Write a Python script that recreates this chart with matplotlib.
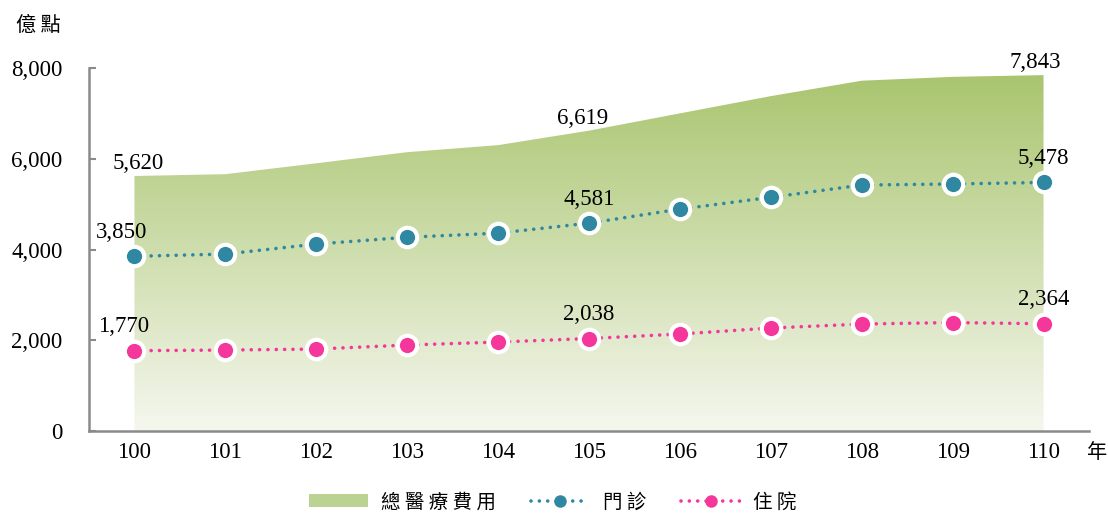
import matplotlib.pyplot as plt
import numpy as np
from matplotlib.colors import LinearSegmentedColormap
from matplotlib.lines import Line2D
from matplotlib.patches import Patch

plt.rcParams['font.family'] = ['Liberation Serif', 'Noto Sans CJK TC']

years = [100, 101, 102, 103, 104, 105, 106, 107, 108, 109, 110]
total = [5620, 5660, 5900, 6145, 6300, 6619, 7000, 7380, 7720, 7805, 7843]
outpatient = [3850, 3900, 4120, 4270, 4360, 4581, 4890, 5150, 5420, 5444, 5478]
inpatient = [1770, 1784, 1806, 1894, 1960, 2038, 2137, 2269, 2357, 2390, 2364]
labeled = [0, 5, 10]

green_top = '#a9c56f'
green_bot = '#f5f7ee'
blue = '#2f87a1'
pink = '#f5369b'

fig = plt.figure(figsize=(11.08, 5.15), dpi=100)
ax = fig.add_axes([89 / 1108, 84 / 515, 1000 / 1108, 363 / 515])

# gradient filled area for total cost
poly = ax.fill_between(years, 0, total, color='none', lw=0, zorder=1)
cmap = LinearSegmentedColormap.from_list('g', [green_bot, green_top])
grad = np.linspace(0, 1, 256).reshape(-1, 1)
img = ax.imshow(grad, cmap=cmap, origin='lower', aspect='auto',
                extent=[years[0], years[-1], 0, max(total)], zorder=1)
img.set_clip_path(poly.get_paths()[0], transform=ax.transData)
ax.set_xlim(99.5, 110.5)
ax.set_ylim(0, 8000)

dot = (0, (0.01, 2.3))
ax.plot(years, outpatient, color=blue, lw=2.6, ls=dot, dash_capstyle='round',
        marker='o', ms=14, mfc=blue, mec='white', mew=3, zorder=3)
ax.plot(years, inpatient, color=pink, lw=2.6, ls=dot, dash_capstyle='round',
        marker='o', ms=14, mfc=pink, mec='white', mew=3, zorder=3)

fs = 16.5
for i in labeled:
    dx = {0: 4, 5: -6, 10: -8}[i]
    ax.annotate(f'{total[i]:,}', (years[i], total[i]), xytext=(dx, 2),
                textcoords='offset pixels', ha='center', va='bottom', fontsize=fs)
    dx = {0: -13, 5: 0, 10: 0}[i]
    ax.annotate(f'{outpatient[i]:,}', (years[i], outpatient[i]), xytext=(dx, 13),
                textcoords='offset pixels', ha='center', va='bottom', fontsize=fs)
    dx = {0: -11, 5: 0, 10: 0}[i]
    ax.annotate(f'{inpatient[i]:,}', (years[i], inpatient[i]), xytext=(dx, 14),
                textcoords='offset pixels', ha='center', va='bottom', fontsize=fs)

ax.set_xticks(years)
ax.set_xticklabels([str(y) for y in years], fontsize=fs)
ax.set_yticks([0, 2000, 4000, 6000, 8000])
ax.set_yticklabels(['0', '2,000', '4,000', '6,000', '8,000'], fontsize=fs)
ax.tick_params(axis='x', length=0, pad=8)
ax.tick_params(axis='y', direction='in', length=5, width=1.5, color='#8a8a8a', pad=19)
for s in ['top', 'right']:
    ax.spines[s].set_visible(False)
for s in ['left', 'bottom']:
    ax.spines[s].set_color('#8a8a8a')
    ax.spines[s].set_linewidth(1.8)

fig.text(38 / 1108, 1 - 25 / 515, '億 點', fontsize=14.5, ha='center', va='center',
         family='Noto Sans CJK TC')
fig.text(1097 / 1108, 1 - 452 / 515, '年', fontsize=14.5, ha='center', va='center',
         family='Noto Sans CJK TC')

handles = [
    Patch(facecolor='#bcd292', edgecolor='none'),
    Line2D([], [], color=blue, lw=2.6, ls=dot, dash_capstyle='round', marker='o',
           ms=9, mfc=blue, mec='white', mew=0),
    Line2D([], [], color=pink, lw=2.6, ls=dot, dash_capstyle='round', marker='o',
           ms=9, mfc=pink, mec='white', mew=0),
]
fig.legend(handles, ['總 醫 療 費 用', '門 診', '住 院'], loc='center',
           bbox_to_anchor=(553 / 1108, 1 - 502 / 515), ncol=3, frameon=False,
           prop={'family': 'Noto Sans CJK TC', 'size': 14}, handlelength=3.0,
           handleheight=0.6, handletextpad=0.7, columnspacing=1.8, numpoints=1)

fig.savefig('out.png', dpi=100)
